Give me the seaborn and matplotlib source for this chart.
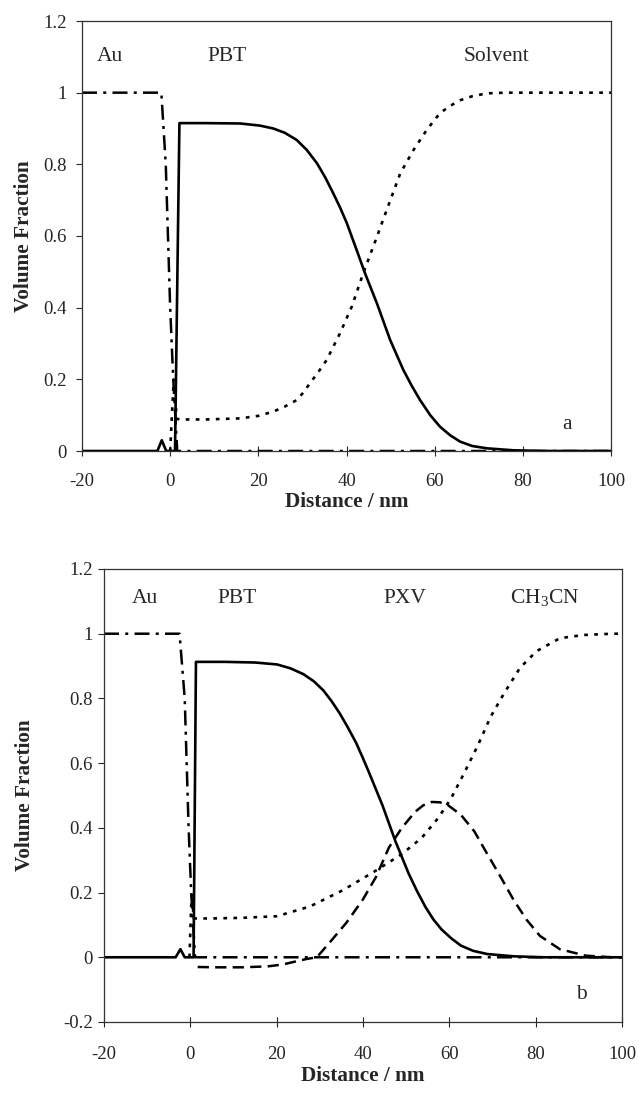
import numpy as np
import pandas as pd
import seaborn as sns
import matplotlib.pyplot as plt
from matplotlib.ticker import FuncFormatter

# Painel a: Au / PBT / Solvent
xa_au = [-20, -2.0, -1.0, 0.0, 0.7, 1.6, 100]
ya_au = [1, 1, 0.8, 0.4, 0.2, 0, 0]

xa_pbt = [-20, -2.9, -1.9, -0.9, 1.1, 2.1, 8, 15.9, 20.4, 23.4, 26, 28.7, 31, 33.3, 35.2, 37.0,
          38.6, 40.1, 42.3, 44.2, 46.9, 49.9, 52.9, 54.8, 56.7, 59, 61.2, 63.5, 65.8, 68.5,
          71.8, 77.8, 85, 100]
ya_pbt = [0, 0, 0.03, 0, 0, 0.915, 0.915, 0.914, 0.908, 0.90, 0.888, 0.868, 0.84, 0.803, 0.763,
          0.719, 0.678, 0.635, 0.561, 0.496, 0.412, 0.31, 0.226, 0.182, 0.142, 0.1, 0.068, 0.044,
          0.026, 0.014, 0.0075, 0.002, 0, 0]

xa_sol = [0, 0.8, 1.5, 2.1, 8, 15.9, 20, 23.4, 26, 28.7, 30.2, 31.7, 33.6, 35.5, 38.5, 41.2,
          43.8, 46.9, 49.1, 52.2, 55.2, 58.2, 61.2, 63.5, 65.8, 68.5, 71.8, 76, 80, 100]
ya_sol = [0, 0.2, 0.09, 0.088, 0.088, 0.091, 0.098, 0.11, 0.124, 0.142, 0.163, 0.189, 0.22,
          0.254, 0.328, 0.403, 0.496, 0.598, 0.672, 0.775, 0.84, 0.896, 0.943, 0.963, 0.979,
          0.99, 0.998, 1.0, 1.0, 1.0]

# Painel b: Au / PBT / PXV / CH3CN
xb_au = [-20, -2.5, -1.3, -0.4, 0.2, 1.1, 100]
yb_au = [1, 1, 0.8, 0.4, 0.2, 0, 0]

xb_pbt = [-20, -3.4, -2.3, -1.3, 0.75, 1.3, 8, 15, 20.1, 23.2, 26.2, 28.6, 30.8, 32.7, 34.6,
          36.5, 38.4, 39.9, 41.4, 44.5, 47.5, 50.6, 52.5, 54.4, 56.3, 58.2, 60.5, 62.7, 65.5,
          68.8, 74.9, 82, 100]
yb_pbt = [0, 0, 0.025, 0, 0, 0.913, 0.913, 0.911, 0.905, 0.893, 0.875, 0.853, 0.825, 0.792,
          0.754, 0.71, 0.663, 0.618, 0.571, 0.470, 0.359, 0.258, 0.205, 0.157, 0.117, 0.086,
          0.058, 0.036, 0.02, 0.01, 0.003, 0, 0]

xb_pxv = [1.7, 6, 12, 18, 21.5, 24.7, 27, 29.3, 32.3, 36.1, 39.9, 43.0, 46.0, 49.0, 52.1, 54,
          55.9, 57.8, 59.7, 62.7, 65.8, 68.8, 71.9, 74.9, 77.9, 81.0, 85.6, 91.6, 97.7, 100]
yb_pxv = [-0.030, -0.031, -0.031, -0.028, -0.022, -0.012, -0.005, 0.0, 0.046, 0.106, 0.177,
          0.248, 0.339, 0.40, 0.45, 0.47, 0.48, 0.479, 0.47, 0.44, 0.389, 0.319, 0.248, 0.177,
          0.116, 0.066, 0.025, 0.005, 0.0, 0.0]

xb_ch3cn = [-0.2, 0.3, 0.8, 5, 12, 20.1, 27.7, 35.3, 43.0, 49.0, 53.6, 57.4, 60.4, 63.5, 66.5,
            69.6, 72.6, 76.4, 80.2, 85.6, 91, 97.7, 100]
yb_ch3cn = [0, 0.2, 0.12, 0.12, 0.122, 0.127, 0.157, 0.207, 0.268, 0.319, 0.369, 0.43, 0.491,
            0.571, 0.652, 0.744, 0.814, 0.895, 0.946, 0.986, 0.996, 1.0, 1.0]

x_ticks = [-20, 0, 20, 40, 60, 80, 100]

sns.set_style('ticks')
plt.rcParams['font.family'] = ['Liberation Serif', 'DejaVu Serif']
plt.rcParams['axes.unicode_minus'] = False
plt.rcParams['mathtext.fontset'] = 'custom'
plt.rcParams['mathtext.rm'] = 'Liberation Serif'

# estilos de linha
estilos = {
    'solido': dict(color='black', lw=1.9, linestyle='-'),
    'ponto': dict(color='black', lw=1.9, linestyle=(0, (1.4, 2.4))),
    'traco': dict(color='black', lw=1.8, linestyle=(0, (4.5, 2.5))),
    'traco_ponto': dict(color='black', lw=1.8, linestyle=(0, (6, 2.5, 1.2, 2.5))),
}

fig = plt.figure(figsize=(6.39, 10.93), dpi=100, facecolor='white')
ax1 = fig.add_axes([82 / 639, 1 - 451 / 1093, (611 - 82) / 639, (451 - 21) / 1093])
ax2 = fig.add_axes([104 / 639, 1 - 1022 / 1093, (622 - 104) / 639, (1022 - 569) / 1093])


def desenha(ax, xs, ys, estilo):
    df = pd.DataFrame({'x': xs, 'y': ys})
    sns.lineplot(data=df, x='x', y='y', ax=ax, estimator=None, sort=False, **estilos[estilo])


desenha(ax1, xa_sol, ya_sol, 'ponto')
desenha(ax1, xa_au, ya_au, 'traco_ponto')
desenha(ax1, xa_pbt, ya_pbt, 'solido')

desenha(ax2, xb_ch3cn, yb_ch3cn, 'ponto')
desenha(ax2, xb_pxv, yb_pxv, 'traco')
desenha(ax2, xb_au, yb_au, 'traco_ponto')
desenha(ax2, xb_pbt, yb_pbt, 'solido')

fmt = FuncFormatter(lambda v, p: f'{v:g}')
for ax, ylim, yticks, ypad, xpad in [(ax1, (0, 1.2), np.arange(0, 1.21, 0.2), 7, 12),
                                     (ax2, (-0.2, 1.2), np.arange(-0.2, 1.21, 0.2), 4, 14)]:
    ax.set_xlim(-20, 100)
    ax.set_ylim(*ylim)
    ax.set_xticks(x_ticks)
    ax.set_yticks(np.round(yticks, 1))
    ax.xaxis.set_major_formatter(fmt)
    ax.yaxis.set_major_formatter(fmt)
    ax.tick_params(axis='x', direction='inout', length=7, width=0.8, labelsize=13.5, pad=xpad)
    ax.tick_params(axis='y', direction='out', length=4, width=0.8, labelsize=13.5, pad=ypad)
    for s in ax.spines.values():
        s.set_linewidth(0.9)
        s.set_color('#333333')
    ax.set_xlabel('Distance / nm', fontsize=15.3, fontweight='bold')
    ax.set_ylabel('Volume Fraction', fontsize=15.3, fontweight='bold')

ax1.yaxis.set_label_coords((34 - 82) / 529, 0.5)
ax2.yaxis.set_label_coords((35 - 104) / 518, 0.5)
ax1.xaxis.set_label_coords(0.5, (451 - 492) / 430)
ax2.xaxis.set_label_coords(0.5, (1022 - 1066) / 453)

rot = dict(fontsize=15.5, ha='center', va='center')
ax1.text(-13.6, 1.1, 'Au', **rot)
ax1.text(12.9, 1.1, 'PBT', **rot)
ax1.text(74, 1.1, 'Solvent', **rot)
ax1.text(90, 0.075, 'a', **rot)

ax2.text(-10.6, 1.11, 'Au', **rot)
ax2.text(10.9, 1.11, 'PBT', **rot)
ax2.text(49.8, 1.11, 'PXV', **rot)
ax2.text(82, 1.11, r'CH$_3$CN', **rot)
ax2.text(90.6, -0.115, 'b', **rot)

plt.savefig('out.png', dpi=100, facecolor='white')
plt.close()
